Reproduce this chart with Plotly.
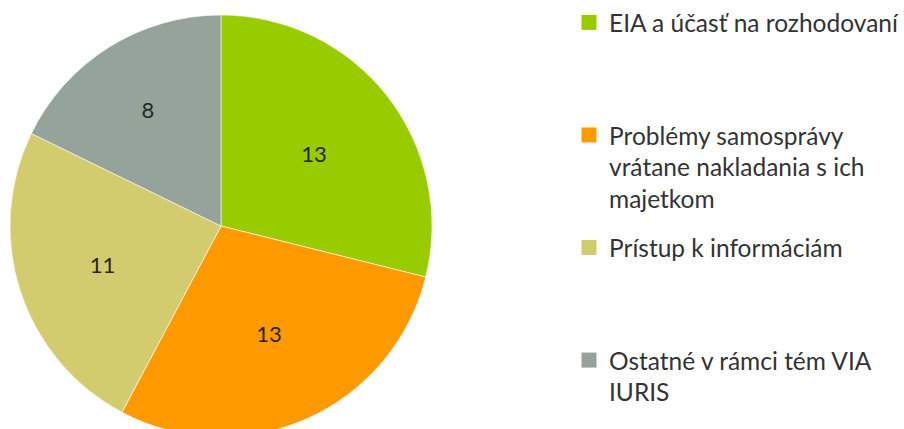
import plotly.graph_objects as go

categories = [
    "EIA a účasť na rozhodovaní",
    "Problémy samosprávy<br>vrátane nakladania s ich<br>majetkom",
    "Prístup k informáciám",
    "Ostatné v rámci tém VIA<br>IURIS",
]
values = [13, 13, 11, 8]
colors = ["#99CC00", "#FF9900", "#D2CC6E", "#95A39B"]

# legend entries are padded to the same number of lines (even slot spacing)
slot_lines = 3
legend_labels = []
for i, c in enumerate(categories):
    n = c.count("<br>") + 1
    pad = max(slot_lines - n, 0) if i < len(categories) - 1 else 0
    legend_labels.append(c + "<br> " * pad)

fig = go.Figure()
fig.add_trace(
    go.Pie(
        labels=[c.replace("<br>", " ") for c in categories],
        values=values,
        sort=False,
        direction="clockwise",
        rotation=0,
        marker=dict(colors=colors, line=dict(color="#ffffff", width=0.6)),
        textinfo="value",
        textposition="inside",
        insidetextorientation="horizontal",
        textfont=dict(family="Lato", size=22, color="#262626"),
        domain=dict(x=[0, 442 / 904], y=[0, 1]),
        hoverinfo="label+value",
        showlegend=False,
    )
)

# legend entries (one group per category, so the gap between them can be set)
for i, (lab, col) in enumerate(zip(legend_labels, colors)):
    fig.add_trace(
        go.Scatter(
            x=[None],
            y=[None],
            mode="markers",
            marker=dict(symbol="square", size=15, color=col),
            name=lab,
            legendgroup=f"g{i}",
            showlegend=True,
            hoverinfo="skip",
        )
    )

# figure is slightly taller than the window: the pie runs off the bottom edge
fig.update_layout(
    width=904,
    height=437,
    margin=dict(l=0, r=0, t=15, b=0, autoexpand=False),
    paper_bgcolor="#ffffff",
    plot_bgcolor="#ffffff",
    font=dict(family="Lato", size=24.5, color="#333333"),
    xaxis=dict(visible=False),
    yaxis=dict(visible=False),
    showlegend=True,
    legend=dict(
        xref="container",
        yref="container",
        x=569 / 904,
        y=1.0,
        xanchor="left",
        yanchor="top",
        valign="top",
        tracegroupgap=14,
        maxheight=437,
        font=dict(family="Lato", size=24.5, color="#333333"),
        bgcolor="rgba(0,0,0,0)",
    ),
)

fig.write_html(
    "out.html",
    config={"displayModeBar": False},
    post_script="document.body.style.margin='0';document.body.style.overflow='hidden';",
)
